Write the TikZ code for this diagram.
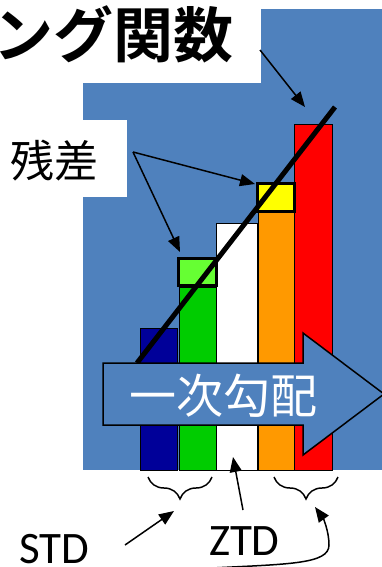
\documentclass[tikz,border=0pt]{standalone}
\usepackage{fontspec}
\setmainfont{Carlito}
\newfontfamily\cjk{Noto Sans CJK JP}
\newfontfamily\cjkb{Noto Sans CJK JP Bold}
\usetikzlibrary{arrows.meta,decorations.pathreplacing}
\definecolor{bgblue}{HTML}{4F81BD}
\definecolor{navybar}{HTML}{000099}
\definecolor{greenbar}{HTML}{00CC00}
\definecolor{lightgreen}{HTML}{66FF33}
\definecolor{orangebar}{HTML}{FF9900}
\definecolor{yellowbox}{HTML}{FFFF00}
\definecolor{redbar}{HTML}{FF0000}
\tikzset{
  bar/.style={draw=black,line width=1pt},
  resbox/.style={draw=black,line width=3pt},
  ptr/.style={draw=black,line width=1.5pt,-{Triangle[length=15pt,width=12pt]}},
  brc/.style={draw=black,line width=1.5pt,decorate,decoration={brace,mirror,amplitude=22pt}},
  txt/.style={inner sep=0pt,outer sep=0pt},
}
\begin{document}
\begin{tikzpicture}[x=1pt,y=-1pt]
\useasboundingbox (0,0) rectangle (382,567);
% background
\fill[white] (0,0) rectangle (382,567);
\fill[bgblue] (83,9) rectangle (382,470);
\fill[white] (0,0) rectangle (261,83);
\fill[white] (0,120) rectangle (127,197);
% bars
\filldraw[bar,fill=navybar] (140,328) rectangle (177,470);
\filldraw[bar,fill=greenbar] (179,287) rectangle (216,470);
\filldraw[bar,fill=white] (216,223) rectangle (257,470);
\filldraw[bar,fill=orangebar] (258,212) rectangle (294,470);
\filldraw[bar,fill=redbar] (294,125) rectangle (332,470);
% residual boxes
\filldraw[resbox,fill=lightgreen] (178.5,258.5) rectangle (216.5,285.5);
\filldraw[resbox,fill=yellowbox] (257.5,183.5) rectangle (294.5,211.5);
% fitting line
\coordinate (lineA) at (335,107);
\coordinate (lineB) at (137,363);
\draw[line width=5pt] (lineA) -- (lineB);
% block arrow
\filldraw[fill=bgblue,draw=black,line width=1.5pt]
  (103,363) -- (303,363) -- (303,333) -- (384,394) -- (303,455) -- (303,425) -- (103,425) -- cycle;
\node[txt,anchor=base,text=white,font=\cjk\fontsize{47}{50}\selectfont] (grad) at (223,413) {一次勾配};
% texts
\node[txt,anchor=base east,font=\cjkb\fontsize{60}{64}\selectfont] (title) at (234,58) {ング関数};
\node[txt,anchor=base west,font=\cjk\fontsize{44}{48}\selectfont] (zansa) at (10,177) {残差};
\node[txt,anchor=base west,font=\fontsize{45}{50}\selectfont] (std) at (19,563) {STD};
\node[txt,anchor=base west,font=\fontsize{45}{50}\selectfont] (ztd) at (209,555) {ZTD};
% braces
\coordinate (bl1) at (148,477); \coordinate (bl2) at (212,477);
\coordinate (br1) at (274,477); \coordinate (br2) at (338,477);
\draw[brc] (bl1) -- (bl2);
\draw[brc] (br1) -- (br2);
% arrows
\coordinate (titleS) at (260,50); \coordinate (titleT) at (305,107);
\coordinate (zansaS) at (133,152);
\coordinate (yelT) at (255,184); \coordinate (grnT) at (180,252);
\coordinate (stdS) at (125,545); \coordinate (stdT) at (174,511);
\coordinate (ztdS) at (243,510); \coordinate (ztdT) at (233,457);
\coordinate (curS) at (212,568); \coordinate (curT) at (315,507);
\draw[ptr] (titleS) -- (titleT);
\draw[ptr] (zansaS) -- (yelT);
\draw[ptr] (zansaS) -- (grnT);
\draw[ptr] (stdS) -- (stdT);
\draw[ptr] (ztdS) -- (ztdT);
\draw[ptr] (curS) .. controls (290,564) and (329,564) .. (329,545) .. controls (329,531) and (323,518) .. (curT);
\end{tikzpicture}
\end{document}
